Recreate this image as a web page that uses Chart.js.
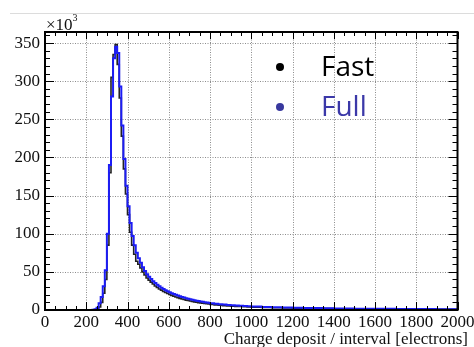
<!DOCTYPE html>
<html>
<head>
<meta charset="utf-8">
<script src="https://cdn.jsdelivr.net/npm/chart.js@4.4.0/dist/chart.umd.min.js"></script>
<style>
html, body { margin: 0; padding: 0; background: #fff; }
#wrap { width: 474px; height: 347px; position: relative; }
</style>
</head>
<body>
<div id="wrap"><canvas id="chart"></canvas></div>
<script>
// histogram bin edges [electrons]
const binEdges = [0,
    200, 210, 220, 230, 240, 250, 260, 270, 280, 290,
    300, 310, 320, 330, 340, 350, 360, 370, 380, 390,
    400, 410, 420, 430, 440, 450, 460, 470, 480, 490,
    500, 510, 520, 530, 540, 550, 560, 570, 580, 590,
    600, 610, 620, 630, 640, 650, 660, 670, 680, 690,
    700, 710, 720, 730, 740, 750, 760, 770, 780, 790,
    800, 820, 840, 860, 880, 900, 920, 940, 960, 980,
    1000, 1050, 1100, 1150, 1200, 1250, 1300, 1350, 1400, 1450,
    1500, 1550, 1600, 1650, 1700, 1750, 1800, 1850, 1900, 1950, 2000];

// counts per bin, x10^3
const fastCounts = [0,
    0, 0, 0, 0.1, 0.4, 1.2, 4, 10, 22, 40,
    85, 180, 305, 335, 348, 322, 278, 228, 185, 152,
    125, 102, 85, 73, 64, 60, 55, 50, 46, 42,
    39, 36.5, 34, 31.5, 29.5, 27.5, 26, 24.3, 23, 21.7,
    20.3, 19.1, 18, 17, 16.1, 15.2, 14.4, 13.7, 13, 12.4,
    11.8, 11.2, 10.7, 10.2, 9.7, 9.3, 8.9, 8.5, 8.1, 7.8,
    7.2, 6.7, 6.2, 5.8, 5.4, 5.1, 4.8, 4.5, 4.2, 4.0,
    3.6, 3.2, 2.9, 2.6, 2.4, 2.2, 2.0, 1.85, 1.7, 1.55,
    1.45, 1.35, 1.25, 1.15, 1.1, 1.0, 0.95, 0.9, 0.85, 0.8];

const fullCounts = [0,
    0, 0, 0, 0.2, 1, 3, 9, 17, 31, 52,
    100, 190, 280, 330, 345, 337, 293, 242, 198, 163,
    136, 114, 97, 85, 75, 68, 62, 56, 51, 47,
    43.5, 40.5, 37.8, 35.3, 33, 31, 29.2, 27.5, 26, 24.6,
    23.3, 22.1, 21, 19.9, 18.9, 18, 17.1, 16.3, 15.5, 14.8,
    14.1, 13.4, 12.8, 12.2, 11.7, 11.2, 10.7, 10.2, 9.8, 9.4,
    8.8, 8.2, 7.6, 7.1, 6.7, 6.3, 5.9, 5.6, 5.3, 5.0,
    4.5, 4.0, 3.6, 3.3, 3.0, 2.7, 2.5, 2.3, 2.1, 1.95,
    1.8, 1.7, 1.6, 1.5, 1.4, 1.3, 1.25, 1.2, 1.1, 1.05];

const xTicks = [0, 200, 400, 600, 800, 1000, 1200, 1400, 1600, 1800, 2000];
const yTicks = [0, 50, 100, 150, 200, 250, 300, 350];
const legendItems = [
    { label: 'Fast', color: '#000000', dot: '#000000' },
    { label: 'Full', color: '#3b38a8', dot: '#38389e' }
];
const xTitle = 'Charge deposit / interval [electrons]';

// last edge closes the last bin
const toSteps = counts => binEdges.map((e, i) => ({ x: e, y: counts[Math.min(i, counts.length - 1)] }));

const serif = '"Liberation Serif", "DejaVu Serif", serif';
Chart.defaults.font.family = serif;
Chart.defaults.color = '#111';

const rootFrame = {
    id: 'rootFrame',
    beforeDatasetsDraw(chart) {
        const { ctx, chartArea: a, scales: { x, y } } = chart;
        ctx.save();
        // light line across the top of the picture
        ctx.strokeStyle = '#dcdcdc';
        ctx.lineWidth = 1;
        ctx.beginPath();
        ctx.moveTo(10, 13.5); ctx.lineTo(474, 13.5);
        ctx.stroke();
        // dotted grid
        ctx.strokeStyle = '#8c8c8c';
        ctx.setLineDash([1, 1.5]);
        ctx.beginPath();
        xTicks.slice(1, -1).forEach(v => {
            const px = Math.round(x.getPixelForValue(v)) + 0.5;
            ctx.moveTo(px, a.top); ctx.lineTo(px, a.bottom);
        });
        yTicks.slice(1).forEach(v => {
            const py = Math.round(y.getPixelForValue(v)) + 0.5;
            ctx.moveTo(a.left, py); ctx.lineTo(a.right, py);
        });
        ctx.stroke();
        ctx.restore();
    },
    afterDatasetsDraw(chart) {
        const { ctx, chartArea: a, scales: { x, y } } = chart;
        ctx.save();
        ctx.strokeStyle = '#000';
        ctx.lineWidth = 1;
        ctx.beginPath();
        // x ticks, bottom and top
        for (let v = 0; v <= 2000; v += 50) {
            const px = Math.round(x.getPixelForValue(v)) + 0.5;
            const major = v % 200 === 0;
            ctx.moveTo(px, a.bottom); ctx.lineTo(px, a.bottom - (major ? 8 : 4));
            ctx.moveTo(px, a.top); ctx.lineTo(px, a.top + (major ? 7 : 4));
        }
        // y ticks, left and right
        for (let v = 0; v <= 360; v += 10) {
            const py = Math.round(y.getPixelForValue(v)) + 0.5;
            const major = v % 50 === 0;
            ctx.moveTo(a.left, py); ctx.lineTo(a.left + (major ? 9 : 5), py);
            ctx.moveTo(a.right, py); ctx.lineTo(a.right - (major ? 9 : 5), py);
        }
        ctx.stroke();
        ctx.lineWidth = 2;
        ctx.strokeRect(a.left, a.top, a.right - a.left, a.bottom - a.top);

        // x10^3
        ctx.fillStyle = '#111';
        ctx.textBaseline = 'alphabetic';
        ctx.textAlign = 'left';
        ctx.font = '17px ' + serif;
        ctx.fillText('\u00d710', a.left + 1, 30);
        const w = ctx.measureText('\u00d710').width;
        ctx.font = '10px ' + serif;
        ctx.fillText('3', a.left + 1 + w, 21);

        // axis title
        ctx.font = '17px ' + serif;
        ctx.textAlign = 'right';
        ctx.fillText(xTitle, 468, 344);

        // legend
        ctx.font = '28px "Open Sans", "Noto Sans", sans-serif';
        ctx.textAlign = 'left';
        ctx.textBaseline = 'middle';
        legendItems.forEach((it, i) => {
            const cy = 67 + i * 40;
            ctx.fillStyle = it.dot;
            ctx.beginPath();
            ctx.arc(280, cy, 4, 0, Math.PI * 2);
            ctx.fill();
            ctx.fillStyle = it.color;
            ctx.fillText(it.label, 321, cy + 1);
        });
        ctx.restore();
    }
};

new Chart(document.getElementById('chart'), {
    type: 'line',
    data: {
        datasets: [
            { label: 'Full', data: toSteps(fullCounts), borderColor: '#1c1cf5', borderWidth: 2, stepped: true, pointRadius: 0, fill: false, order: 0 },
            { label: 'Fast', data: toSteps(fastCounts), borderColor: '#222222', borderWidth: 1.6, stepped: true, pointRadius: 0, fill: false, order: 1 }
        ]
    },
    options: {
        responsive: true, maintainAspectRatio: false, animation: false,
        layout: { padding: { top: 32, right: 16.5, left: 0, bottom: 0 } },
        plugins: { legend: { display: false }, tooltip: { enabled: false } },
        scales: {
            x: {
                type: 'linear', min: 0, max: 2000,
                grid: { display: false, drawTicks: false }, border: { display: false },
                ticks: { stepSize: 200, autoSkip: false, maxRotation: 0, padding: 2, font: { size: 17 }, callback: v => String(v) },
                afterFit: s => { s.height = 37; s.paddingLeft = 0; s.paddingRight = 0; }
            },
            y: {
                min: 0, max: 364.5,
                grid: { display: false, drawTicks: false }, border: { display: false },
                ticks: { stepSize: 50, includeBounds: false, padding: 5, font: { size: 17 }, callback: v => String(v) },
                afterFit: s => { s.width = 45; s.paddingTop = 0; s.paddingBottom = 0; }
            }
        }
    },
    plugins: [rootFrame]
});
</script>
</body>
</html>
